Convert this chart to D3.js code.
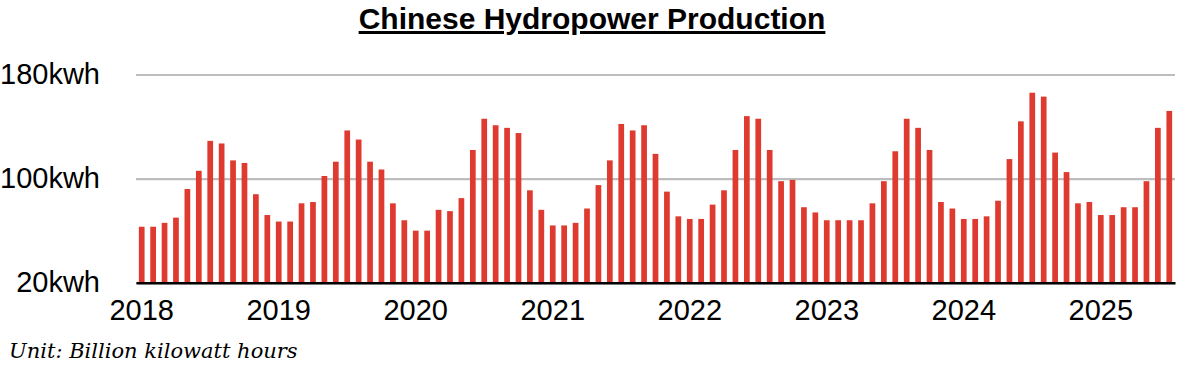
<!DOCTYPE html>
<html>
<head>
<meta charset="utf-8">
<script src="https://cdn.jsdelivr.net/npm/d3@7"></script>
<style>
  body { margin: 0; background: #fff; }
  svg { display: block; }
</style>
</head>
<body>
<div id="chart"></div>
<script>
// monthly hydropower output, Jan 2018 - Jul 2025 (billion kWh)
const years = [2018, 2019, 2020, 2021, 2022, 2023, 2024, 2025];
const values2018 = [63, 63, 66, 70, 92, 106, 129, 127, 114, 112, 88, 72];
const values2019 = [67, 67, 81, 82, 102, 113, 137, 130, 113, 107, 81, 68];
const values2020 = [60, 60, 76, 75, 85, 122, 146, 141, 139, 135, 91, 76];
const values2021 = [64, 64, 66, 77, 95, 114, 142, 137, 141, 119, 90, 71];
const values2022 = [69, 69, 80, 91, 122, 148, 146, 122, 98, 99, 78, 74];
const values2023 = [68, 68, 68, 68, 81, 98, 121, 146, 139, 122, 82, 77];
const values2024 = [69, 69, 71, 83, 115, 144, 166, 163, 120, 105, 81, 82];
const values2025 = [72, 72, 78, 78, 98, 139, 152];
const yTicks = [20, 100, 180];

const allValues = [values2018, values2019, values2020, values2021,
  values2022, values2023, values2024, values2025];

let data = [];
allValues.forEach((arr, i) => {
  arr.forEach((v, m) => {
    data.push({ key: years[i] + "-" + (m + 1), year: years[i], month: m, value: v });
  });
});

let W = 1182, H = 375;
let margin = { top: 74.5, left: 136, right: 7, bottom: 92.3 };
let width = W - margin.left - margin.right,
    height = H - margin.top - margin.bottom;

let svg = d3.select("#chart")
  .append("svg")
  .attr("width", W)
  .attr("height", H);

// title
svg.append("text")
  .attr("x", 592)
  .attr("y", 29)
  .attr("text-anchor", "middle")
  .style("font-family", "'Liberation Sans', Arial, Helvetica, sans-serif")
  .style("font-size", "30px")
  .style("font-weight", "bold")
  .style("text-decoration", "underline")
  .text("Chinese Hydropower Production");

let g = svg.append("g")
  .attr("transform", "translate(" + margin.left + "," + margin.top + ")");

let xScale = d3.scaleBand()
  .domain(data.map(d => d.key))
  .range([0, width])
  .paddingInner(0.5)
  .paddingOuter(0.25);

let yScale = d3.scaleLinear()
  .domain([20, 180])
  .range([height, 0]);

// gridlines
g.append("g")
  .attr("class", "grid")
  .call(d3.axisLeft(yScale).tickValues(yTicks).tickSize(-width).tickFormat(""))
  .call(s => s.select(".domain").remove())
  .call(s => s.selectAll("line").attr("stroke", "#bdbdbd").attr("stroke-width", 2.2));

// y labels
g.append("g")
  .call(d3.axisLeft(yScale).tickValues(yTicks).tickSize(0).tickPadding(36).tickFormat(d => d + "kwh"))
  .call(s => s.select(".domain").remove())
  .call(s => s.selectAll("text")
    .attr("fill", "#000")
    .style("font-family", "'Liberation Sans', Arial, Helvetica, sans-serif")
    .style("font-size", "29px"));

// bars
g.selectAll(".bar")
  .data(data)
  .enter().append("rect")
  .attr("class", "bar")
  .attr("fill", "#df3a2f")
  .attr("x", d => xScale(d.key))
  .attr("width", xScale.bandwidth())
  .attr("y", d => yScale(d.value))
  .attr("height", d => height - yScale(d.value));

// x axis, labels on each January
g.append("g")
  .attr("transform", "translate(0," + height + ")")
  .call(d3.axisBottom(xScale)
    .tickValues(years.map(y => y + "-1"))
    .tickFormat(k => k.split("-")[0])
    .tickSize(0)
    .tickSizeOuter(0)
    .tickPadding(17))
  .call(s => s.select(".domain").attr("stroke", "#000").attr("stroke-width", 2.5))
  .call(s => s.selectAll("text")
    .attr("fill", "#000")
    .style("font-family", "'Liberation Sans', Arial, Helvetica, sans-serif")
    .style("font-size", "29px"));

// unit note
svg.append("text")
  .attr("x", 9)
  .attr("y", 358)
  .style("font-family", "'DejaVu Serif', 'Liberation Serif', serif")
  .style("font-style", "italic")
  .style("font-size", "21px")
  .text("Unit: Billion kilowatt hours");
</script>
</body>
</html>
